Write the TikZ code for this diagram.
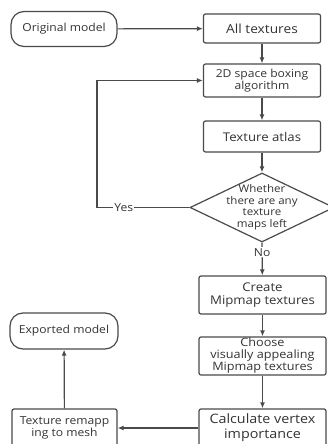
\documentclass[tikz,border=0pt]{standalone}
\usepackage{fontspec}
\setmainfont{Open Sans}[FakeStretch=1.1]
\usetikzlibrary{shapes.geometric,arrows.meta}
\definecolor{linegray}{HTML}{4A4A4A}
\definecolor{textgray}{HTML}{333333}

\begin{document}
\begin{tikzpicture}[x=1pt,y=-1pt,
    every node/.style={text=textgray,font=\fontsize{11}{12}\selectfont,align=center},
    box/.style={draw=linegray,line width=1.2pt,rounded corners=2pt,minimum width=117pt,inner sep=1pt},
    terminal/.style={draw=linegray,line width=1.2pt,rounded corners=13pt,minimum width=106pt,minimum height=35pt},
    decision/.style={draw=linegray,line width=1.2pt,diamond,aspect=2,minimum width=144pt,minimum height=69pt,inner xsep=0pt,inner ysep=-9pt,font=\fontsize{10.5}{11.5}\selectfont},
    flow/.style={draw=linegray,line width=1.2pt,-{Latex[length=6pt,width=5pt]}}]
    \useasboundingbox (0,0) rectangle (327,444);
    \node[terminal](orig) at (64,29) {Original model};
    \node[box,minimum height=29pt,font=\fontsize{12.5}{14}\selectfont](alltex) at (262,28.5) {All textures};
    \node[box,minimum height=33pt](boxing) at (262,80.5) {2D space boxing\\algorithm};
    \node[box,minimum height=31pt,font=\fontsize{12}{14}\selectfont](atlas) at (262,136.5) {Texture atlas};
    \node[decision](left) at (262,207.5) {Whether\\there are any\\texture\\maps left};
    \node[box,minimum width=127pt,minimum height=38pt,font=\fontsize{12}{13}\selectfont](mipmap) at (262.5,295) {Create\\Mipmap textures};
    \node[box,minimum width=127pt,minimum height=38pt,font=\fontsize{11.5}{12}\selectfont](choose) at (262.5,356) {Choose\\visually appealing\\Mipmap textures};
    \node[box,minimum width=127pt,minimum height=38pt,font=\fontsize{13}{15}\selectfont](vertex) at (262.5,428) {Calculate vertex\\importance};
    \node[box,minimum width=105pt,minimum height=38pt](remap) at (64.5,428) {Texture remapp\\ing to mesh};
    \node[terminal,minimum width=108pt,minimum height=36pt](export) at (64,331) {Exported model};
    \coordinate (corner) at (97,207.5);
    \draw[flow](orig)--(alltex);
    \draw[flow](alltex)--(boxing);
    \draw[flow](boxing)--(atlas);
    \draw[flow](atlas)--(left);
    \draw[flow](left.west)--node[fill=white,inner sep=1pt,pos=0.71]{Yes}(corner)|-(boxing.west);
    \draw[flow](left.south)--node[fill=white,inner sep=1pt,pos=0.3]{No}(mipmap);
    \draw[flow](mipmap)--(choose);
    \draw[flow](choose)--(vertex);
    \draw[flow](vertex)--(remap);
    \draw[flow](remap)--(export);
\end{tikzpicture}
\end{document}
